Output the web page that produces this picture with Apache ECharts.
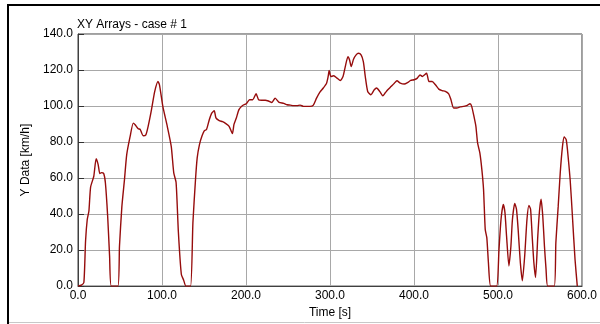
<!DOCTYPE html>
<html>
<head>
<meta charset="utf-8">
<script src="https://cdn.jsdelivr.net/npm/echarts@6/dist/echarts.min.js"></script>
<style>
  html, body { margin: 0; padding: 0; background: #ffffff; }
  #chart { width: 600px; height: 324px; }
</style>
</head>
<body>
<div id="chart"></div>
<script>
// Time samples [s]
const timeValues = [
  0, 4, 7, 9, 11, 13, 15, 18.8, 21.6, 24, 26, 28, 30.6, 32.6, 35.3, 37.6, 39.6,
  47.5, 49.4, 52.2, 55.3, 58, 62, 65.8, 68, 71.7, 74, 77.6, 80.8, 83.5, 87.5, 91.3,
  95.2, 97, 101, 106.3, 111, 114, 116.8, 119.5, 123, 125.8, 128.5,
  134, 136.8, 139.9, 141.9, 144.6, 147.8, 150.5, 153, 156.3, 159.2, 162.2, 164.2,
  168.1, 172.1, 176, 179.9, 183.8, 185.7, 188.5, 191.6, 195.6, 200.3, 204.2, 208,
  212, 215, 218.7, 223, 226.7, 230.8, 234.7, 239.4, 245, 248.9, 252.8, 256.7,
  260.6, 264.5, 268.5, 272.4, 276.3, 280.2, 284, 288, 292, 295.9, 297.8, 299,
  301, 304.5, 308.4, 312.3, 315.5, 318.2, 321.4, 323.3, 325.3, 328, 331.1, 333.8,
  337, 339.7, 342, 344.9, 348.8, 352.7, 355.5, 359.4, 362.9, 365.6, 368.8, 372.6,
  376.6, 379.7, 383.7, 388.4, 392.3, 396.1, 400.1, 404, 407.2, 410, 415, 417.8,
  421.6, 425.5, 429.5, 433.4, 437.3, 441.3, 444, 447.2, 451, 454.9, 458.9, 462.8,
  466.7, 468.7, 471.4, 473.7, 475.7, 478.4, 480.8, 482.8, 484.8, 486.7, 488.6,
  491.3, 498.4, 501.2, 503.6, 506.3, 508.3, 510.2, 513, 515.4, 517.2, 520, 522,
  524, 526.6, 529, 531.8, 534.5, 536.8, 538.8, 540.7, 542.7, 544.7, 547.4, 549.4,
  551.3, 553.3, 555.3, 557.2, 559.2, 567, 568.9, 571.7, 574.1, 576.8, 578.8,
  581.2, 582.7, 585.9, 588.6, 591.7, 594.4
];

// Speed samples [km/h]
const speedValues = [
  0, 0.5, 2, 25, 37, 41.7, 55, 61, 70.8, 67.5, 62.5, 63, 62.5, 57.4, 38.9, 16.8, 0,
  0, 22.3, 44, 59, 73, 83, 90.5, 89.6, 87.4, 87, 83.5, 84, 88.7, 98, 108,
  113.6, 111.8, 99.8, 88.7, 77.6, 62.9, 57.4, 30, 6.6, 3.3, 0,
  0, 35.2, 59.2, 71.2, 78.6, 83.6, 86.3, 87, 92.4, 96.1, 97.4, 93.4,
  91.9, 91.3, 90.2, 88.7, 84.7, 89.8, 93.4, 98, 100.2, 101.3, 103.5, 103.5,
  106.8, 103.5, 103.2, 103.2, 102.8, 102, 104.4, 102, 101.5, 100.7, 100.5, 100.2,
  100.2, 100.5, 99.8, 99.8, 99.8, 100.5, 104.4, 107.7, 110, 112.7, 116.4, 119.7,
  116.4, 116.8, 115.5, 114.2, 116.4, 121.9, 127.4, 125.6, 121.9, 126, 128.4, 129.3,
  128.4, 124.7, 116.4, 108.1, 106.3, 109, 110, 108, 105.7, 107.2, 109, 110.8,
  112.7, 114, 112.7, 112.2, 113, 114.2, 114.6, 115.5, 117.3, 116.4, 118.2, 113.6,
  113.6, 111.8, 109.4, 108.6, 108.1, 106.8, 103.5, 98.9, 98.9, 99.5, 99.8, 100.2,
  101.3, 99.8, 94.2, 88.7, 79.5, 74, 64.7, 53.7, 31.5, 26.9, 13.1,
  0, 0, 20.4, 37, 45.4, 40.8, 27.8, 11.2, 22.3, 37, 45.9, 42.7,
  31.5, 13.1, 2.9, 16.8, 37, 44.8, 42.7, 27.8, 13.1, 4.8, 27.8, 41.7,
  48.2, 38.9, 22.3, 9.4, 0, 0, 24.2, 44.4, 62.9, 77.6, 82.8,
  81.3, 75.8, 59.2, 38.9, 14.9, 0
];

const titleText = 'XY Arrays - case # 1';
const xAxisName = 'Time [s]';
const yAxisName = 'Y Data [km/h]';

const seriesData = timeValues.map((t, i) => [t, speedValues[i]]);

const chart = echarts.init(document.getElementById('chart'), null, { renderer: 'canvas' });

const textFont = { fontFamily: 'Liberation Sans, Arial, sans-serif', fontSize: 12, color: '#000000' };

chart.setOption({
  animation: false,
  backgroundColor: '#ffffff',
  title: {
    text: titleText,
    left: 77,
    top: 19,
    padding: 0,
    textStyle: Object.assign({}, textFont, { fontWeight: 'normal' })
  },
  grid: {
    left: 78,
    right: 11,
    top: 34,
    bottom: 37,
    show: true,
    borderColor: '#404040',
    borderWidth: 1,
    backgroundColor: 'transparent'
  },
  xAxis: {
    type: 'value',
    min: 0,
    max: 600,
    interval: 100,
    name: xAxisName,
    nameLocation: 'middle',
    nameGap: 20,
    nameTextStyle: textFont,
    axisLine: { show: true, lineStyle: { color: '#404040', width: 1 } },
    axisTick: { show: false },
    splitLine: { show: true, lineStyle: { color: '#a8a8a8', width: 1 } },
    axisLabel: Object.assign({}, textFont, {
      margin: 4,
      formatter: v => v.toFixed(1)
    })
  },
  yAxis: {
    type: 'value',
    min: 0,
    max: 140,
    interval: 20,
    name: yAxisName,
    nameLocation: 'middle',
    nameGap: 44,
    nameTextStyle: textFont,
    axisLine: { show: true, lineStyle: { color: '#404040', width: 1 } },
    axisTick: { show: true, inside: true, length: 6, lineStyle: { color: '#303030', width: 1 } },
    splitLine: { show: true, lineStyle: { color: '#a8a8a8', width: 1 } },
    axisLabel: Object.assign({}, textFont, {
      margin: 5,
      formatter: v => v.toFixed(1)
    })
  },
  series: [{
    type: 'line',
    data: seriesData,
    showSymbol: false,
    smooth: 0.2,
    clip: true,
    lineStyle: { color: '#960c0c', width: 1.4 }
  }],
  graphic: [
    { type: 'line', shape: { x1: 8, y1: 5, x2: 600, y2: 5 }, style: { stroke: '#000000', lineWidth: 2 } },
    { type: 'line', shape: { x1: 8, y1: 4, x2: 8, y2: 324 }, style: { stroke: '#000000', lineWidth: 2 } },
    { type: 'line', shape: { x1: 9, y1: 322.5, x2: 600, y2: 322.5 }, style: { stroke: '#c8c8c8', lineWidth: 1 } }
  ]
});
</script>
</body>
</html>
